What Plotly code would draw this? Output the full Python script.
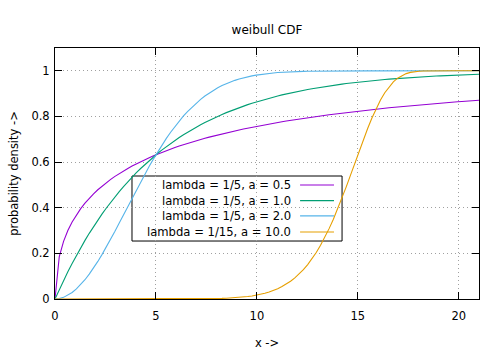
import numpy as np
import plotly.graph_objects as go

# Weibull CDF parameters for each curve
labels = ["lambda = 1/5, a = 0.5", "lambda = 1/5, a = 1.0",
          "lambda = 1/5, a = 2.0", "lambda = 1/15, a = 10.0"]
lambdas = [1 / 5, 1 / 5, 1 / 5, 1 / 15]
shapes_a = [0.5, 1.0, 2.0, 10.0]
colors = ["#9400d3", "#009e73", "#56b4e9", "#e69f00"]

x_min, x_max, n_samples = 0.0, 21.0, 100
x = np.linspace(x_min, x_max, n_samples)

FONT = "DejaVu Sans, sans-serif"

fig = go.Figure()
for lab, lam, a, c in zip(labels, lambdas, shapes_a, colors):
    y = 1.0 - np.exp(-(lam * x) ** a)
    fig.add_trace(go.Scatter(x=x, y=y, mode="lines", name=lab,
                             line=dict(color=c, width=1.1), showlegend=False))

# key box: right-aligned labels with line samples on the right
box_x0, box_x1, box_y0, box_y1 = 0.1816, 0.677, 0.231, 0.490
row_y = [0.454, 0.392, 0.331, 0.267]
shapes = [dict(type="rect", xref="paper", yref="paper", x0=box_x0, x1=box_x1,
               y0=box_y0, y1=box_y1, line=dict(color="black", width=1),
               fillcolor="white", layer="between")]
annotations = []
for lab, c, ry in zip(labels, colors, row_y):
    annotations.append(dict(x=0.561, y=ry, xref="paper", yref="paper",
                            text=lab, showarrow=False, xanchor="right",
                            yanchor="middle", font=dict(size=11.6, color="black", family=FONT)))
    shapes.append(dict(type="line", xref="paper", yref="paper", x0=0.578, x1=0.658,
                       y0=ry, y1=ry, line=dict(color=c, width=1.1), layer="above"))

axis_common = dict(
    showline=True, linecolor="black", linewidth=1, mirror="ticks",
    ticks="inside", ticklen=7, tickcolor="black", tickwidth=1,
    showgrid=True, gridcolor="#a0a0a0", griddash="1px,3px", gridwidth=1,
    zeroline=False, automargin=False,
    tickfont=dict(size=11.5, color="black", family=FONT),
)

fig.update_layout(
    width=500, height=350,
    margin=dict(l=55, r=21, t=48, b=51),
    paper_bgcolor="white", plot_bgcolor="white",
    font=dict(family=FONT, size=11.5, color="black"),
    title=dict(text="weibull CDF", x=0.534, xanchor="center", y=0.915, yanchor="middle",
               font=dict(size=12, family=FONT)),
    xaxis=dict(range=[x_min, x_max], tickvals=[0, 5, 10, 15, 20],
               title=dict(text="x ->", standoff=18, font=dict(size=11.5)),
               ticklabelstandoff=6, **axis_common),
    yaxis=dict(range=[0, 1.1], tickvals=[0, 0.2, 0.4, 0.6, 0.8, 1.0],
               ticktext=["0", "0.2", "0.4", "0.6", "0.8", "1"],
               title=dict(text="probability density ->", standoff=10, font=dict(size=11.5)),
               ticklabelstandoff=2, **axis_common),
    shapes=shapes, annotations=annotations,
)

fig.write_html("out.html")
